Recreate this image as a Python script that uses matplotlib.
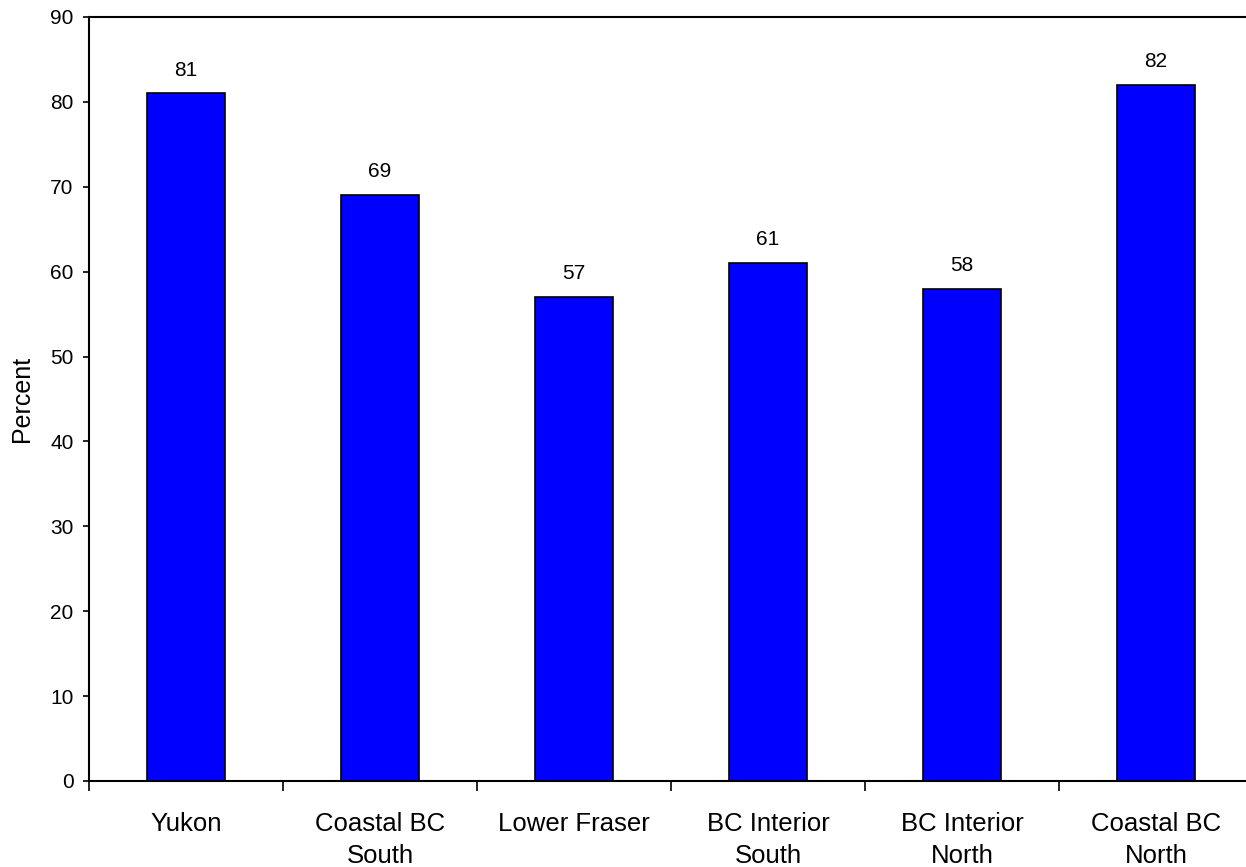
import matplotlib.pyplot as plt
import numpy as np

plt.rcParams["font.family"] = ["Liberation Sans", "DejaVu Sans"]

regions = ["Yukon", "Coastal BC\nSouth", "Lower Fraser", "BC Interior\nSouth",
           "BC Interior\nNorth", "Coastal BC\nNorth"]
percent = [81, 69, 57, 61, 58, 82]

fig = plt.figure(figsize=(12.46, 8.67), dpi=100)
# axes runs slightly past the right edge of the canvas
ax = fig.add_axes([89 / 1246, 1 - 781 / 867, (1253 - 89) / 1246, (781 - 17) / 867])

x = np.arange(len(regions))
ax.bar(x, percent, width=0.40, color="#0000ff", edgecolor="black", linewidth=1.2)

for xi, v in zip(x, percent):
    ax.annotate(str(v), (xi, v), xytext=(0, 10), textcoords="offset points",
                ha="center", va="bottom", fontsize=15)

ax.set_xlim(-0.5, len(regions) - 0.5)
ax.set_ylim(0, 90)
ax.set_yticks(np.arange(0, 91, 10))
ax.set_xticks(x)
ax.set_xticklabels(regions)
ax.set_xticks(np.arange(-0.5, len(regions), 1.0), minor=True)
ax.tick_params(axis="x", which="major", length=0, pad=22, labelsize=18.5)
ax.tick_params(axis="x", which="minor", length=7, width=1.2, direction="out")
ax.tick_params(axis="y", length=4.5, width=1.2, direction="out", labelsize=15, pad=6.5)
for lbl in ax.get_xticklabels():
    lbl.set_linespacing(1.42)

ax.set_ylabel("Percent", fontsize=18, labelpad=12)

for side in ["left", "top", "bottom"]:
    ax.spines[side].set_linewidth(1.5)
ax.spines["right"].set_visible(False)

fig.savefig("out.png", dpi=100)
